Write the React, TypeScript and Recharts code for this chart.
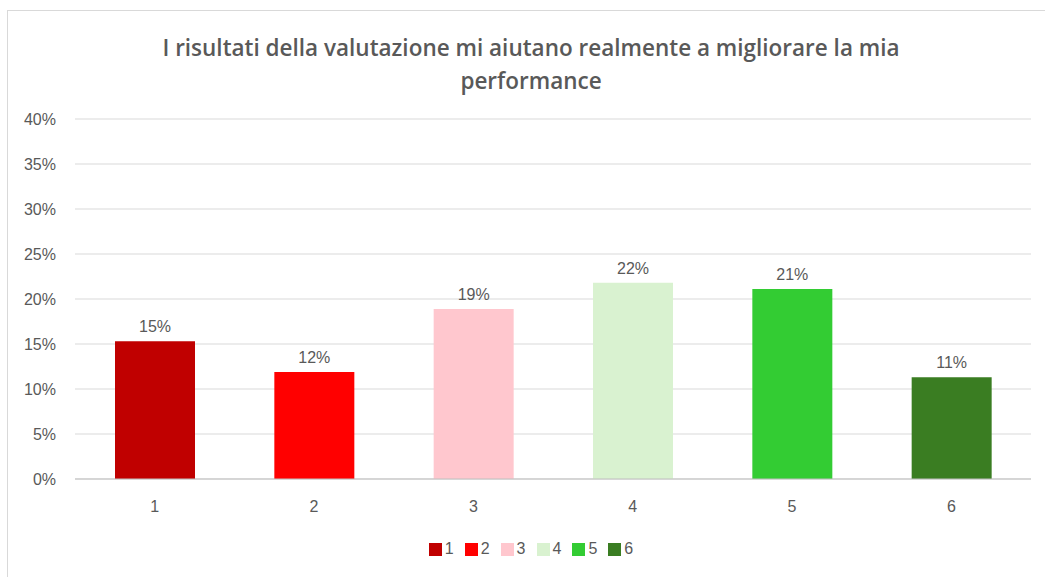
import React from 'react'
import { BarChart, Bar, XAxis, YAxis, CartesianGrid, LabelList, Cell } from 'recharts'

/* ------------------------------------------------------------------ */
/*  Data                                                               */
/* ------------------------------------------------------------------ */

const categories = ['1', '2', '3', '4', '5', '6']
const shares = [15.3, 11.9, 18.9, 21.8, 21.1, 11.3]
const barColors = ['#C00000', '#FF0000', '#FFC7CE', '#D9F2D0', '#33CC33', '#3A7D22']
const yTicks = [0, 5, 10, 15, 20, 25, 30, 35, 40]

const TITLE_LINES = [
  'I risultati della valutazione mi aiutano realmente a migliorare la mia',
  'performance',
]

const data = categories.map((c, i) => ({ name: c, value: shares[i] }))

const TEXT = '#595959'
const FONT = '"Liberation Sans", Arial, sans-serif'

/* ------------------------------------------------------------------ */
/*  Component                                                          */
/* ------------------------------------------------------------------ */

export default function App() {
  return (
    <div
      style={{
        position: 'absolute',
        left: 0,
        top: 0,
        width: 1045,
        height: 577,
        background: '#fff',
        overflow: 'hidden',
        fontFamily: FONT,
      }}
    >
      {/* frame */}
      <div
        style={{
          position: 'absolute',
          left: 7,
          top: 10,
          width: 1100,
          height: 600,
          borderTop: '1px solid #d9d9d9',
          borderLeft: '1px solid #d9d9d9',
        }}
      />

      {/* title */}
      <div
        style={{
          position: 'absolute',
          left: 0,
          top: 31,
          width: 1062,
          textAlign: 'center',
          color: TEXT,
          fontFamily: '"Open Sans", sans-serif',
          fontSize: 22.5,
          fontWeight: 600,
          lineHeight: '33px',
        }}
      >
        {TITLE_LINES.map((l) => (
          <div key={l}>{l}</div>
        ))}
      </div>

      <div style={{ position: 'absolute', left: 0, top: 0 }}>
        <BarChart
          width={1045}
          height={577}
          data={data}
          margin={{ top: 119, right: 14, left: 0, bottom: 58 }}
        >
          <CartesianGrid stroke="#d9d9d9" vertical={false} />
          <XAxis
            dataKey="name"
            tickLine={false}
            axisLine={{ stroke: '#bfbfbf' }}
            tick={{ fill: TEXT, fontSize: 16, fontFamily: FONT }}
            tickMargin={16}
            height={40}
          />
          <YAxis
            domain={[0, 40]}
            ticks={yTicks}
            interval={0}
            tickFormatter={(v: number) => `${v}%`}
            tickLine={false}
            axisLine={false}
            tick={{ fill: TEXT, fontSize: 16, fontFamily: FONT }}
            width={75}
            tickMargin={13}
          />
          <Bar dataKey="value" barSize={80} isAnimationActive={false}>
            {data.map((d, i) => (
              <Cell key={d.name} fill={barColors[i]} />
            ))}
            <LabelList
              dataKey="value"
              position="top"
              offset={9}
              formatter={(v: number) => `${Math.round(v)}%`}
              style={{ fill: TEXT, fontSize: 16, fontFamily: FONT }}
            />
          </Bar>
        </BarChart>
      </div>

      {/* legend */}
      <div
        style={{
          position: 'absolute',
          left: 0,
          top: 540,
          width: 1062,
          display: 'flex',
          justifyContent: 'center',
          gap: 11,
          color: TEXT,
          fontSize: 16,
          lineHeight: '18px',
        }}
      >
        {categories.map((c, i) => (
          <div key={c} style={{ display: 'flex', alignItems: 'center', gap: 3 }}>
            <span
              style={{ display: 'inline-block', width: 13, height: 13, background: barColors[i] }}
            />
            <span>{c}</span>
          </div>
        ))}
      </div>
    </div>
  )
}
